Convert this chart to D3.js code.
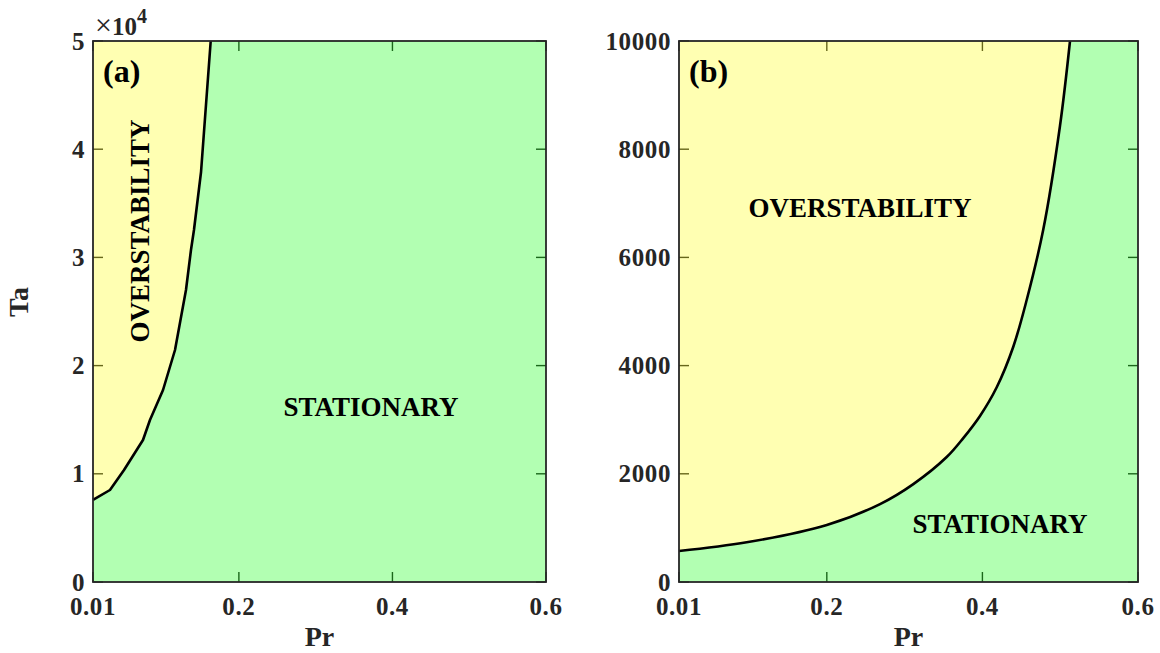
<!DOCTYPE html>
<html>
<head>
<meta charset="utf-8">
<script src="https://cdn.jsdelivr.net/npm/d3@7"></script>
<style>
  body { margin: 0; background: #fff; }
  text { font-family: "Liberation Serif", "Times New Roman", serif; font-weight: bold; fill: #262626; }
</style>
</head>
<body>
<svg id="chart" width="1160" height="653"></svg>
<script>
// boundary between overstability and stationary convection
const prA = [0.01, 0.0321, 0.0504, 0.0751, 0.0842, 0.1012, 0.1168, 0.1311, 0.1376, 0.1415, 0.1507, 0.1633];
const taA = [7579, 8503, 10351, 13124, 14972, 17745, 21442, 26987, 30684, 32532, 37893, 50000];

const prB = [0.01, 0.097, 0.2, 0.2684, 0.3112, 0.3541, 0.3754, 0.3969, 0.4184, 0.4397, 0.4569, 0.4783, 0.4997, 0.5126];
const taB = [573, 734, 1054, 1440, 1810, 2310, 2660, 3070, 3600, 4349, 5212, 6519, 8429, 10000];

const xTicks = [0.01, 0.2, 0.4, 0.6];
const yTicksA = [0, 10000, 20000, 30000, 40000, 50000];
const yTicksB = [0, 2000, 4000, 6000, 8000, 10000];

const svg = d3.select("#chart");
const axisColor = "#262626";

const panels = [
  { left: 93, right: 546, ymax: 50000, pr: prA, ta: taA, yTicks: yTicksA,
    yFmt: d => d / 10000, tag: "(a)", curve: d3.curveLinear,
    labels: [
      { t: "OVERSTABILITY", x: 140, y: 231, rot: -90 },
      { t: "STATIONARY", x: 371, y: 407, rot: 0 }
    ] },
  { left: 679, right: 1138, ymax: 10000, pr: prB, ta: taB, yTicks: yTicksB,
    yFmt: d => d, tag: "(b)", curve: d3.curveCatmullRom,
    labels: [
      { t: "OVERSTABILITY", x: 860, y: 208, rot: 0 },
      { t: "STATIONARY", x: 1000, y: 524, rot: 0 }
    ] }
];

const plotTop = 41, plotBottom = 582;

panels.forEach(p => {
  const x = d3.scaleLinear().domain([0.01, 0.6]).range([p.left, p.right]);
  const y = d3.scaleLinear().domain([0, p.ymax]).range([plotBottom, plotTop]);
  const g = svg.append("g");

  // ticks (drawn under the translucent fills)
  xTicks.forEach(v => {
    g.append("line").attr("x1", x(v)).attr("x2", x(v)).attr("y1", plotBottom).attr("y2", plotBottom - 10)
      .attr("stroke", axisColor).attr("stroke-width", 1.4);
    g.append("line").attr("x1", x(v)).attr("x2", x(v)).attr("y1", plotTop).attr("y2", plotTop + 10)
      .attr("stroke", axisColor).attr("stroke-width", 1.4);
    g.append("text").attr("x", x(v)).attr("y", 615).attr("text-anchor", "middle")
      .style("font-size", "25px").style("letter-spacing", "0.6px").text(v);
  });
  p.yTicks.forEach(v => {
    g.append("line").attr("x1", p.left).attr("x2", p.left + 10).attr("y1", y(v)).attr("y2", y(v))
      .attr("stroke", axisColor).attr("stroke-width", 1.4);
    g.append("line").attr("x1", p.right).attr("x2", p.right - 10).attr("y1", y(v)).attr("y2", y(v))
      .attr("stroke", axisColor).attr("stroke-width", 1.4);
    g.append("text").attr("x", p.left - 8).attr("y", y(v) + 8.5).attr("text-anchor", "end")
      .style("font-size", "25px").style("letter-spacing", "0.6px").text(p.yFmt(v));
  });

  const line = d3.line().curve(p.curve);
  const pts = p.pr.map((d, i) => [x(d), y(p.ta[i])]);
  const last = pts[pts.length - 1];
  const curveD = line(pts);

  // overstability region (upper left)
  g.append("path")
    .attr("d", curveD + `L${last[0]},${plotTop}L${p.left},${plotTop}Z`)
    .attr("fill", "#ffff00").attr("fill-opacity", 0.3);
  // stationary region
  g.append("path")
    .attr("d", curveD + `L${p.right},${plotTop}L${p.right},${plotBottom}L${p.left},${plotBottom}Z`)
    .attr("fill", "#00ff00").attr("fill-opacity", 0.3);

  // boundary curve
  g.append("path").attr("d", curveD).attr("fill", "none")
    .attr("stroke", "#000").attr("stroke-width", 2.6).attr("stroke-linejoin", "round");

  // frame
  g.append("rect").attr("x", p.left).attr("y", plotTop).attr("width", p.right - p.left).attr("height", plotBottom - plotTop)
    .attr("fill", "none").attr("stroke", axisColor).attr("stroke-width", 1.8);

  g.append("text").attr("x", (p.left + p.right) / 2).attr("y", 646).attr("text-anchor", "middle")
    .style("font-size", "28px").text("Pr");

  g.append("text").attr("x", p.left + 10).attr("y", 82).style("font-size", "32px")
    .style("fill", "#000").text(p.tag);

  p.labels.forEach(l => {
    g.append("text").attr("transform", `translate(${l.x},${l.y}) rotate(${l.rot})`)
      .attr("text-anchor", "middle").attr("dy", "0.35em")
      .style("font-size", "27px").style("fill", "#000").text(l.t);
  });
});

// y-axis label and exponent
svg.append("text").attr("transform", "translate(28,302) rotate(-90)").attr("text-anchor", "middle")
  .style("font-size", "28px").text("Ta");

const ex = svg.append("text").attr("x", 95).attr("y", 35).style("font-size", "25px");
ex.append("tspan").style("font-size", "30px").style("font-weight", "normal").text("\u00d7");
ex.append("tspan").text("10");
ex.append("tspan").attr("dy", -12).style("font-size", "20px").text("4");
</script>
</body>
</html>
